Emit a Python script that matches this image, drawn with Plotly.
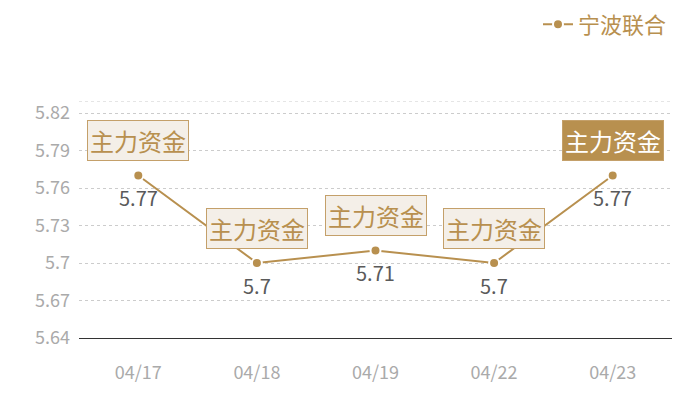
import plotly.graph_objects as go

dates = ["04/17", "04/18", "04/19", "04/22", "04/23"]
values = [5.77, 5.70, 5.71, 5.70, 5.77]
value_labels = ["5.77", "5.7", "5.71", "5.7", "5.77"]
tag_text = "主力资金"
series_name = "宁波联合"
y_ticks = [5.64, 5.67, 5.70, 5.73, 5.76, 5.79, 5.82]
y_tick_labels = ["5.64", "5.67", "5.7", "5.73", "5.76", "5.79", "5.82"]
y_max = 5.8296

GOLD = "#b8904f"
FONT = "Noto Sans CJK SC"

fig = go.Figure()
fig.add_trace(go.Scatter(
    x=dates, y=values, mode="lines+markers", name=series_name,
    line=dict(color=GOLD, width=2),
    marker=dict(size=10, color=GOLD, line=dict(color="white", width=2)),
))

for i, (d, v, lab) in enumerate(zip(dates, values, value_labels)):
    last = i == len(dates) - 1
    fig.add_annotation(
        x=d, y=v, xref="x", yref="y", text=tag_text, showarrow=False,
        yshift=35,
        font=dict(family=FONT, size=24, color="white" if last else GOLD),
        bgcolor=GOLD if last else "#f4efe8",
        bordercolor="#c4a06a", borderwidth=1, borderpad=2,
    )
    fig.add_annotation(
        x=d, y=v, xref="x", yref="y", text=lab, showarrow=False,
        yshift=-22,
        font=dict(family=FONT, size=20, color="#5a5a5a"),
    )

fig.add_shape(type="line", xref="paper", yref="y", x0=0, x1=1, y0=y_max, y1=y_max,
              line=dict(color="#cccccc", width=1, dash="dot"))

fig.update_layout(
    width=692, height=392,
    margin=dict(l=71, r=28, t=93, b=62),
    paper_bgcolor="white", plot_bgcolor="white",
    font=dict(family=FONT),
    showlegend=True,
    legend=dict(orientation="h", x=1.0, xanchor="right", y=0.958, yanchor="middle",
                yref="container", xref="paper",
                font=dict(size=22, color=GOLD, family=FONT),
                bgcolor="rgba(0,0,0,0)", itemwidth=30),
    xaxis=dict(
        type="category", showgrid=False, showline=True, linecolor="#333333", linewidth=1,
        ticks="", tickfont=dict(size=18, color="#aaaaaa", family=FONT),
        range=[-0.5, 4.5], ticklabelstandoff=18,
    ),
    yaxis=dict(
        range=[5.64, y_max], tickvals=y_ticks, ticktext=y_tick_labels,
        showgrid=True, gridcolor="#cccccc", griddash="dot", gridwidth=1,
        zeroline=False, showline=False, ticks="",
        tickfont=dict(size=18, color="#aaaaaa", family=FONT),
        ticklabelstandoff=8,
    ),
)

fig.write_html("out.html")
